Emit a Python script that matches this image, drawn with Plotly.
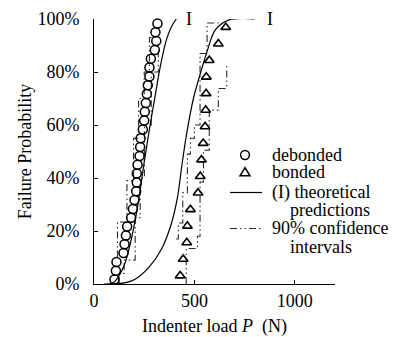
import plotly.graph_objects as go

# ---- data ----
deb_P = [102, 109, 112, 147, 152, 159, 165, 185, 194, 202, 210, 213, 213, 217, 227,
         230, 232, 243, 250, 253, 258, 263, 268, 276, 276, 283, 303, 310, 306, 316]
deb_n = len(deb_P)
deb_F = [(i + 0.5) / deb_n for i in range(deb_n)]

bon_P = [429, 444, 462, 465, 480, 518, 529, 535, 544, 553, 556, 558, 559, 574, 619, 656]
bon_n = len(bon_P)
bon_F = [(i + 0.5) / bon_n for i in range(bon_n)]

# theoretical predictions (read points)
th1_P = [50, 90, 110, 150, 180, 200, 225, 250, 275, 300, 330, 360, 385, 410]
th1_F = [0.0, 0.003, 0.015, 0.07, 0.15, 0.22, 0.33, 0.46, 0.58, 0.69, 0.82, 0.92, 0.97, 1.0]
th2_P = [100, 150, 200, 270, 335, 382, 414, 438, 462, 495, 528, 560, 605, 670, 800]
th2_F = [0.0, 0.004, 0.016, 0.06, 0.13, 0.22, 0.32, 0.45, 0.57, 0.70, 0.79, 0.87, 0.96, 0.996, 1.0]

# 90% confidence interval bounds (step corners)
deb_lo_P = [117, 164, 197, 222, 250, 276, 300]
deb_lo_F = [0.10, 0.234, 0.39, 0.55, 0.70, 0.80, 0.93]
deb_hi_P = [125, 150, 205, 230, 251, 285, 320, 320]
deb_hi_F = [0.0, 0.04, 0.09, 0.25, 0.40, 0.60, 0.80, 0.88]
bon_lo_P = [409, 420, 442, 465, 480, 500, 528, 563, 620]
bon_lo_F = [0.17, 0.23, 0.345, 0.49, 0.55, 0.60, 0.87, 0.985, 0.985]
bon_hi_P = [459, 515, 528, 545, 574, 619, 661, 661]
bon_hi_F = [0.0, 0.134, 0.18, 0.385, 0.505, 0.656, 0.738, 0.826]

x_ticks = [0, 500, 1000]
y_ticks = [0, 0.2, 0.4, 0.6, 0.8, 1.0]

FONT = "Liberation Serif, Times New Roman, Times, serif"
FS = 18
CI_DASH = "7px,3px,1.5px,3px,1.5px,3px"
CI_COLOR = "#2a2a2a"

fig = go.Figure()

def ci(P, F, shape):
    fig.add_trace(go.Scatter(x=P, y=F, mode="lines", line_shape=shape,
                             line=dict(color=CI_COLOR, width=1.1, dash=CI_DASH),
                             showlegend=False, hoverinfo="skip", cliponaxis=False))

ci(deb_lo_P, deb_lo_F, "vh")
ci(deb_hi_P, deb_hi_F, "vh")
ci(bon_lo_P, bon_lo_F, "hv")
ci(bon_hi_P, bon_hi_F, "vh")

for P, F in [(th1_P, th1_F), (th2_P, th2_F)]:
    fig.add_trace(go.Scatter(x=P, y=F, mode="lines", line_shape="spline",
                             line=dict(color="black", width=1.2),
                             showlegend=False, cliponaxis=False))

fig.add_trace(go.Scatter(x=deb_P, y=deb_F, mode="markers", name="debonded",
                         marker=dict(symbol="circle-open", size=9, color="black",
                                     line=dict(width=1.5, color="black")),
                         showlegend=False, cliponaxis=False))
fig.add_trace(go.Scatter(x=bon_P, y=bon_F, mode="markers", name="bonded",
                         marker=dict(symbol="triangle-up-open", size=8.5, color="black",
                                     line=dict(width=1.6, color="black")),
                         showlegend=False, cliponaxis=False))

# ---- manual legend (pixel -> data conversion helpers) ----
L, R, T, B = 94, 59, 19, 53
W, H = 394, 337
pw, ph = W - L - R, H - T - B

def px2x(px):
    return (px - L) / pw * 1200

def py2y(py):
    return (H - B - py) / ph

ann = []
def text(px, py, s, anchor="left"):
    ann.append(dict(x=px2x(px), y=py2y(py), xref="x", yref="y", text=s,
                    showarrow=False, xanchor=anchor, yanchor="middle",
                    borderpad=0, font=dict(family=FONT, size=FS, color="black")))

text(271, 155, "debonded")
text(271, 172, "bonded")
text(271, 192, "(I) theoretical")
text(289, 209.5, "predictions")
text(271, 228, "90% confidence")
text(289, 246.5, "intervals")
text(188.5, 19, "I", "center")
text(269.5, 19, "I", "center")

# x-axis title
ann.append(dict(x=0.5, y=py2y(326), xref="paper", yref="paper",
                text="Indenter load <i>P</i>&nbsp; (N)", showarrow=False,
                xanchor="center", yanchor="middle", borderpad=0,
                font=dict(family=FONT, size=FS, color="black")))

shapes = [
    dict(type="circle", xref="x", yref="y", xsizemode="pixel", ysizemode="pixel",
         xanchor=px2x(245), yanchor=py2y(155), x0=-4.4, x1=4.4, y0=-4.4, y1=4.4,
         line=dict(color="black", width=1.5)),
    dict(type="path", xref="x", yref="y", xsizemode="pixel", ysizemode="pixel",
         xanchor=px2x(245), yanchor=py2y(172.5), path="M-4.9,-3.2 L4.9,-3.2 L0,4.8 Z",
         line=dict(color="black", width=1.6)),
    dict(type="line", xref="x", yref="y", x0=px2x(230), x1=px2x(262),
         y0=py2y(192.5), y1=py2y(192.5), line=dict(color="black", width=1.2)),
    dict(type="line", xref="x", yref="y", x0=px2x(230), x1=px2x(262),
         y0=py2y(228.5), y1=py2y(228.5),
         line=dict(color=CI_COLOR, width=1.2, dash=CI_DASH)),
]

fig.update_layout(
    width=W, height=H,
    margin=dict(l=L, r=R, t=T, b=B, autoexpand=False),
    paper_bgcolor="white", plot_bgcolor="white",
    font=dict(family=FONT, size=FS, color="black"),
    showlegend=False,
    annotations=ann, shapes=shapes,
    xaxis=dict(range=[0, 1200], tickvals=x_ticks, ticks="inside", ticklen=4,
               tickcolor="black", showline=True, linecolor="black", linewidth=1,
               showgrid=False, zeroline=False, ticklabelstandoff=0, automargin=False,
               tickfont=dict(family=FONT, size=FS, color="black")),
    yaxis=dict(range=[0, 1], tickvals=y_ticks, tickformat=".0%", ticks="inside",
               ticklen=4, tickcolor="black", showline=True, linecolor="black",
               linewidth=1, showgrid=False, zeroline=False, ticklabelstandoff=10,
               automargin=False,
               tickfont=dict(family=FONT, size=FS, color="black"),
               title=dict(text="Failure Probability", standoff=1,
                          font=dict(family=FONT, size=FS, color="black"))),
)

fig.write_html("out.html", config={"displayModeBar": False},
               post_script="document.body.style.margin='0';document.body.style.padding='0';")
